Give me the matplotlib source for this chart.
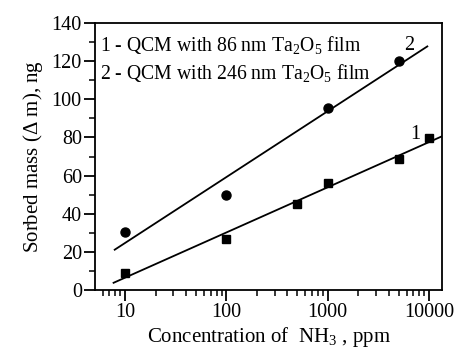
import numpy as np
import matplotlib
matplotlib.use("Agg")
import matplotlib.pyplot as plt
from matplotlib.ticker import LogLocator, MultipleLocator, FixedLocator

plt.rcParams['font.family'] = ['Liberation Serif', 'DejaVu Serif']
plt.rcParams['mathtext.fontset'] = 'custom'
plt.rcParams['mathtext.rm'] = 'Liberation Serif'

# sample 1: 86 nm film (squares)
conc_1 = [10, 100, 500, 1000, 5000, 10000]
mass_1 = [8.9, 26.7, 45.3, 56.0, 68.5, 79.9]
# sample 2: 246 nm film (circles)
conc_2 = [10, 100, 1000, 5000]
mass_2 = [30.2, 49.8, 95.3, 120.3]

fig = plt.figure(figsize=(4.57, 3.54), dpi=100)
ax = fig.add_axes([95/457, 1 - 290/354, (442-95)/457, (290-23)/354])

ax.plot(conc_1, mass_1, 's', color='black', ms=6, zorder=3)
ax.plot(conc_2, mass_2, 'o', color='black', ms=6.5, zorder=3)

# linear fits in log(concentration)
k1, b1 = np.polyfit(np.log10(conc_1), mass_1, 1)
k2, b2 = np.polyfit(np.log10(conc_2), mass_2, 1)
xf1 = np.array([7.7, 14000])
xf2 = np.array([7.9, 9600])
ax.plot(xf1, k1 * np.log10(xf1) + b1, color='black', lw=1.3)
ax.plot(xf2, k2 * np.log10(xf2) + b2, color='black', lw=1.3)

ax.set_xscale('log')
ax.set_xlim(5.05, 13400)
ax.set_ylim(0, 140)
ax.xaxis.set_major_locator(FixedLocator([10, 100, 1000, 10000]))
ax.xaxis.set_minor_locator(LogLocator(base=10, subs=np.arange(2, 10)))
ax.xaxis.set_major_formatter(plt.FuncFormatter(lambda v, p: f"{int(v)}"))
ax.xaxis.set_minor_formatter(plt.NullFormatter())
ax.yaxis.set_major_locator(MultipleLocator(20))
ax.yaxis.set_minor_locator(MultipleLocator(10))

ax.tick_params(which='major', direction='out', length=8, width=1.3, labelsize=14.5,
               top=False, right=False, pad=1.5)
ax.tick_params(which='minor', direction='out', length=4.5, width=1.1,
               top=False, right=False)
for s in ax.spines.values():
    s.set_linewidth(1.3)

ax.set_ylabel(r'Sorbed mass ($\Delta$ m), ng', fontsize=15, labelpad=5)
ax.set_xlabel(r'Concentration of  NH$_3$ , ppm', fontsize=15, labelpad=2)

ax.text(0.015, 0.915, r'1 - QCM with 86 nm Ta$_2$O$_5$ film', transform=ax.transAxes,
        fontsize=14.2, va='center')
ax.text(0.015, 0.81, r'2 - QCM with 246 nm Ta$_2$O$_5$ film', transform=ax.transAxes,
        fontsize=14.2, va='center')
ax.text(6300, 126, '2', fontsize=14.5, ha='center')
ax.text(7300, 79, '1', fontsize=14.5, ha='center')

fig.savefig('out.png', dpi=100)
